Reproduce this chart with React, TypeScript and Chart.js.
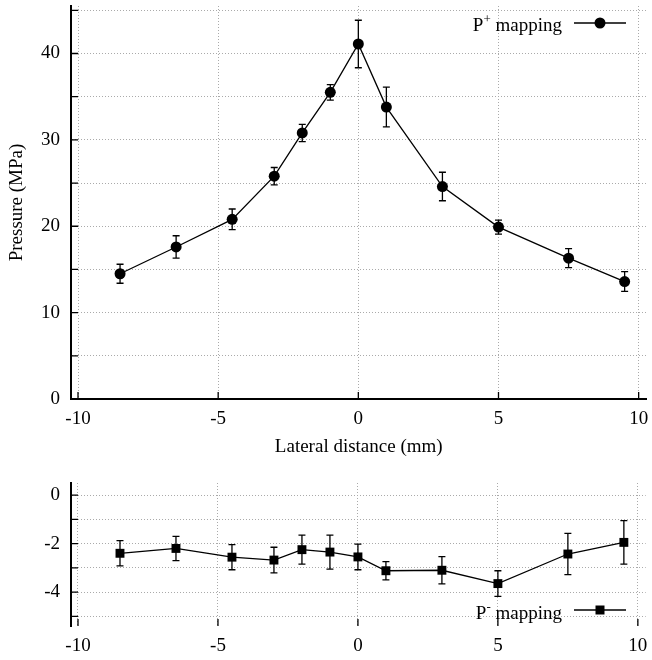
import React, { useEffect, useRef } from 'react';
import { Chart, registerables } from 'chart.js';
Chart.register(...registerables);

const FONT = "'Liberation Serif', 'Times New Roman', serif";
const FS = 19;

// Lateral positions (mm)
const lateralPositions = [-8.5, -6.5, -4.5, -3, -2, -1, 0, 1, 3, 5, 7.5, 9.5];
// P+ mapping (MPa) and its error
const pPlusValues = [14.5, 17.6, 20.8, 25.8, 30.8, 35.5, 41.1, 33.8, 24.6, 19.9, 16.3, 13.6];
const pPlusErrors = [1.1, 1.3, 1.2, 1.0, 1.0, 0.9, 2.75, 2.3, 1.65, 0.8, 1.1, 1.15];
// P- mapping (MPa) and its error
const pMinusValues = [-2.4, -2.2, -2.56, -2.68, -2.25, -2.35, -2.55, -3.12, -3.1, -3.65, -2.43, -1.95];
const pMinusErrors = [0.52, 0.5, 0.52, 0.53, 0.6, 0.7, 0.53, 0.38, 0.56, 0.53, 0.85, 0.9];

const xTickValues = [-10, -5, 0, 5, 10];
const topYTickValues = [0, 5, 10, 15, 20, 25, 30, 35, 40, 45];
const topYLabeled = [0, 10, 20, 30, 40];
const bottomYTickValues = [0, -1, -2, -3, -4, -5];
const bottomYLabeled = [0, -2, -4];

const xTitle = 'Lateral distance (mm)';
const yTitle = 'Pressure (MPa)';
const legendPlus = { base: 'P', sup: '+', rest: ' mapping' };
const legendMinus = { base: 'P', sup: '-', rest: ' mapping' };

function errorBarPlugin(errors: number[]) {
  return {
    id: 'errorBars',
    beforeDatasetsDraw(chart: any) {
      const { ctx } = chart;
      const xs = chart.scales.x;
      const ys = chart.scales.y;
      const data = chart.data.datasets[0].data as { x: number; y: number }[];
      ctx.save();
      ctx.strokeStyle = '#000';
      ctx.lineWidth = 1.3;
      data.forEach((p, i) => {
        const px = xs.getPixelForValue(p.x);
        const yt = ys.getPixelForValue(p.y + errors[i]);
        const yb = ys.getPixelForValue(p.y - errors[i]);
        ctx.beginPath();
        ctx.moveTo(px, yt);
        ctx.lineTo(px, yb);
        ctx.moveTo(px - 3.5, yt);
        ctx.lineTo(px + 3.5, yt);
        ctx.moveTo(px - 3.5, yb);
        ctx.lineTo(px + 3.5, yb);
        ctx.stroke();
      });
      ctx.restore();
    },
  };
}

const inwardTicksPlugin = {
  id: 'inwardTicks',
  afterDraw(chart: any) {
    const { ctx, chartArea } = chart;
    const xs = chart.scales.x;
    const ys = chart.scales.y;
    ctx.save();
    ctx.strokeStyle = '#000';
    ctx.lineWidth = 1.3;
    ctx.beginPath();
    xs.ticks.forEach((t: any) => {
      const px = xs.getPixelForValue(t.value);
      ctx.moveTo(px, chartArea.bottom);
      ctx.lineTo(px, chartArea.bottom - 7);
    });
    ys.ticks.forEach((t: any) => {
      const py = ys.getPixelForValue(t.value);
      ctx.moveTo(chartArea.left, py);
      ctx.lineTo(chartArea.left + 7, py);
    });
    ctx.stroke();
    ctx.restore();
  },
};

function legendPlugin(label: { base: string; sup: string; rest: string }, textRight: number, baseline: number, lineY: number, square: boolean) {
  return {
    id: 'customLegend',
    afterDraw(chart: any) {
      const { ctx } = chart;
      ctx.save();
      ctx.fillStyle = '#000';
      ctx.textBaseline = 'alphabetic';
      ctx.textAlign = 'left';
      const big = `${FS}px ${FONT}`;
      const small = `13px ${FONT}`;
      ctx.font = big;
      const wBase = ctx.measureText(label.base).width;
      const wRest = ctx.measureText(label.rest).width;
      ctx.font = small;
      const wSup = ctx.measureText(label.sup).width;
      let x = textRight - (wBase + wSup + wRest);
      ctx.font = big;
      ctx.fillText(label.base, x, baseline);
      x += wBase;
      ctx.font = small;
      ctx.fillText(label.sup, x, baseline - 8);
      x += wSup;
      ctx.font = big;
      ctx.fillText(label.rest, x, baseline);
      ctx.strokeStyle = '#000';
      ctx.lineWidth = 1.3;
      ctx.beginPath();
      ctx.moveTo(574, lineY);
      ctx.lineTo(626, lineY);
      ctx.stroke();
      ctx.beginPath();
      if (square) {
        ctx.rect(600 - 4.5, lineY - 4.5, 9, 9);
      } else {
        ctx.arc(600, lineY, 5.5, 0, Math.PI * 2);
      }
      ctx.fill();
      ctx.restore();
    },
  };
}

function zeroPadding(s: any) {
  s.paddingLeft = 0;
  s.paddingRight = 0;
  s.paddingTop = 0;
  s.paddingBottom = 0;
}

function makeConfig(opts: {
  values: number[];
  errors: number[];
  yMin: number;
  yMax: number;
  yTicks: number[];
  yLabeled: number[];
  square: boolean;
  xBorder: boolean;
  showXTitle: boolean;
  showYTitle: boolean;
  xScaleHeight: number;
  topPad: number;
  legend: any;
}) {
  const data = lateralPositions.map((x, i) => ({ x, y: opts.values[i] }));
  return {
    type: 'line',
    data: {
      datasets: [
        {
          data,
          borderColor: '#000',
          backgroundColor: '#000',
          borderWidth: 1.3,
          tension: 0,
          pointStyle: opts.square ? 'rect' : 'circle',
          pointRadius: opts.square ? 6.3 : 5.5,
          pointBackgroundColor: '#000',
          pointBorderColor: '#000',
          pointBorderWidth: 0,
          clip: false,
        },
      ],
    },
    options: {
      animation: false,
      responsive: true,
      maintainAspectRatio: false,
      events: [],
      layout: { padding: { top: opts.topPad, right: 2, left: 0, bottom: 2 } },
      plugins: { legend: { display: false }, tooltip: { enabled: false } },
      scales: {
        x: {
          type: 'linear',
          min: -10.25,
          max: 10.28,
          afterBuildTicks: (s: any) => {
            s.ticks = xTickValues.map((v) => ({ value: v }));
          },
          afterFit: (s: any) => {
            s.height = opts.xScaleHeight;
            zeroPadding(s);
          },
          ticks: {
            color: '#000',
            font: { family: FONT, size: FS },
            padding: 9,
            maxRotation: 0,
            autoSkip: false,
            callback: (v: any) => String(v),
          },
          grid: { color: '#aaa', lineWidth: 1, drawTicks: false },
          border: { display: opts.xBorder, color: '#000', width: 2, dash: [1, 2] },
          title: {
            display: opts.showXTitle,
            text: xTitle,
            color: '#000',
            font: { family: FONT, size: FS },
            padding: { top: 0, bottom: 0 },
          },
        },
        y: {
          type: 'linear',
          min: opts.yMin,
          max: opts.yMax,
          afterBuildTicks: (s: any) => {
            s.ticks = opts.yTicks.map((v) => ({ value: v }));
          },
          afterFit: (s: any) => {
            s.width = 71;
            zeroPadding(s);
          },
          ticks: {
            color: '#000',
            font: { family: FONT, size: FS },
            padding: 11,
            autoSkip: false,
            callback: (v: any) => (opts.yLabeled.includes(v) ? String(v) : ''),
          },
          grid: { color: '#aaa', lineWidth: 1, drawTicks: false },
          border: { display: true, color: '#000', width: 2, dash: [1, 2] },
          title: {
            display: opts.showYTitle,
            text: yTitle,
            color: '#000',
            font: { family: FONT, size: FS },
            padding: { top: 6, bottom: 0 },
          },
        },
      },
    },
    plugins: [errorBarPlugin(opts.errors), inwardTicksPlugin, opts.legend],
  } as any;
}

export default function App() {
  const topRef = useRef<HTMLCanvasElement>(null);
  const bottomRef = useRef<HTMLCanvasElement>(null);

  useEffect(() => {
    Chart.defaults.font.family = FONT;
    const top = new Chart(
      topRef.current!,
      makeConfig({
        values: pPlusValues,
        errors: pPlusErrors,
        yMin: 0,
        yMax: 45.5,
        yTicks: topYTickValues,
        yLabeled: topYLabeled,
        square: false,
        xBorder: true,
        showXTitle: true,
        showYTitle: true,
        xScaleHeight: 61 - 2,
        topPad: 6,
        legend: legendPlugin(legendPlus, 562, 31, 23, false),
      })
    );
    const bottom = new Chart(
      bottomRef.current!,
      makeConfig({
        values: pMinusValues,
        errors: pMinusErrors,
        yMin: -5.4,
        yMax: 0.5,
        yTicks: bottomYTickValues,
        yLabeled: bottomYLabeled,
        square: true,
        xBorder: false,
        showXTitle: false,
        showYTitle: false,
        xScaleHeight: 34 - 2,
        topPad: 23,
        legend: legendPlugin(legendMinus, 562, 159, 150, true),
      })
    );
    return () => {
      top.destroy();
      bottom.destroy();
    };
  }, []);

  return (
    <div style={{ position: 'absolute', left: 0, top: 0, width: 652, height: 660, background: '#fff' }}>
      <div style={{ position: 'absolute', left: 0, top: 0, width: 652, height: 460 }}>
        <canvas ref={topRef} />
      </div>
      <div style={{ position: 'absolute', left: 0, top: 460, width: 652, height: 200 }}>
        <canvas ref={bottomRef} />
      </div>
    </div>
  );
}
